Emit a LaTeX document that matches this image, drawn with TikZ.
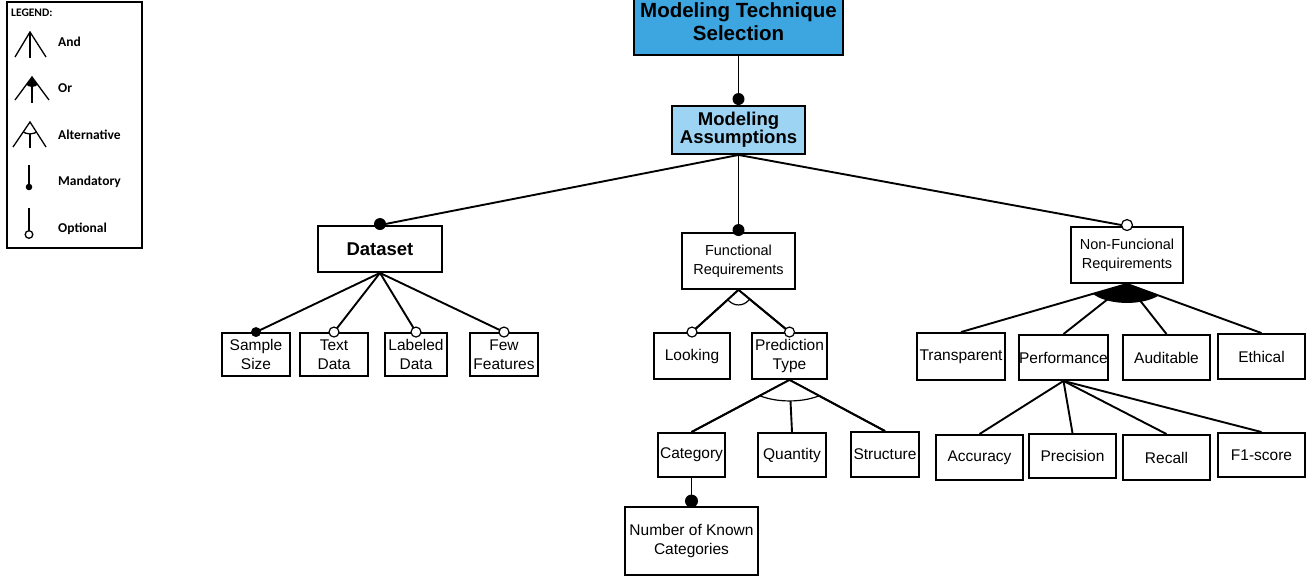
\documentclass[tikz,border=0pt]{standalone}
\usepackage{fontspec}
\setmainfont{Liberation Sans}
\newfontfamily\legfont{Carlito}
\usetikzlibrary{calc}
\definecolor{topblue}{HTML}{3DA5DF}
\definecolor{lightblue}{HTML}{9DD3F3}
\begin{document}
\begin{tikzpicture}[x=1pt,y=-1pt,
  box/.style={draw, line width=1.9pt, inner sep=0pt, align=center, font=\fontsize{15.5}{18.5}\selectfont},
  conn/.style={line width=1.9pt},
  grp/.style={line width=1.2pt},
  leg/.style={line width=1.3pt},
  legtext/.style={anchor=west, inner sep=0pt, font=\legfont\bfseries\fontsize{13.5}{15}\selectfont}]
\useasboundingbox (0,0) rectangle (1307,577);

% ---------- legend ----------
\node[draw, line width=1.2pt, minimum width=135, minimum height=246, inner sep=0pt] (legend) at (74.5,125) {};
\node[legtext, font=\legfont\bfseries\fontsize{11.5}{13}\selectfont] (legtitle) at (11,13) {LEGEND:};
\node[legtext] (legand) at (58,42) {And};
\node[legtext] (legor) at (58,88) {Or};
\node[legtext] (legalt) at (58,135) {Alternative};
\node[legtext] (legmand) at (58,182) {Mandatory};
\node[legtext] (legopt) at (58,229) {Optional};
% And
\draw[leg] (15,57) -- (30,32) -- (46,57);
\draw[leg] (30,32) -- (30,58);
% Or
\draw[leg] (15,100) -- (32,77) -- (49,100);
\draw[leg] (32,77) -- (32,103);
\begin{scope}
  \clip (32,77) -- (15,100) -- (49,100) -- cycle;
  \fill (32,77) ellipse [x radius=9, y radius=10];
\end{scope}
% Alternative
\begin{scope}
  \clip (30,122) -- (13,147) -- (46,147) -- cycle;
  \draw[leg, fill=white] (30,122) ellipse [x radius=12, y radius=12];
\end{scope}
\draw[leg] (13,147) -- (30,122) -- (46,147);
\draw[leg] (30,134) -- (30,148);
% Mandatory
\draw[leg] (29,165) -- (29,187);
\fill (29,187) circle (3.3);
% Optional
\draw[leg] (29,208) -- (29,231);
\draw[leg, fill=white] (29,234.5) circle (3.8);

% ---------- nodes ----------
\node[box, fill=topblue, minimum width=209, minimum height=67,
      font=\bfseries\fontsize{20.5}{23}\selectfont] (mts) at (738.5,21.5) {Modeling Technique\\Selection};
\node[box, fill=lightblue, minimum width=133, minimum height=48,
      font=\bfseries\fontsize{18.5}{16.5}\selectfont] (ma) at (738.5,130) {Modeling\\Assumptions};

\node[box, minimum width=124, minimum height=46, font=\bfseries\fontsize{18.5}{20}\selectfont] (ds) at (380,249) {Dataset};
\node[box, minimum width=113, minimum height=56, font=\fontsize{14.5}{19}\selectfont] (fr) at (738.5,261) {Functional\\Requirements};
\node[box, minimum width=112, minimum height=56, font=\fontsize{14.5}{19}\selectfont] (nfr) at (1127,255) {Non-Funcional\\Requirements};

\node[box, minimum width=68, minimum height=43] (ss) at (256,354.5) {Sample\\Size};
\node[box, minimum width=68, minimum height=43] (td) at (334,354.5) {Text\\Data};
\node[box, minimum width=62, minimum height=43] (ld) at (416,354.5) {Labeled\\Data};
\node[box, minimum width=68, minimum height=43] (ff) at (504,354.5) {Few\\Features};

\node[box, minimum width=76, minimum height=46] (lk) at (692,356) {Looking};
\node[box, minimum width=75, minimum height=46] (pt) at (789.5,356) {Prediction\\Type};

\node[box, minimum width=67, minimum height=44] (cat) at (691.5,455) {Category};
\node[box, minimum width=68, minimum height=44] (qty) at (792,455) {Quantity};
\node[box, minimum width=68, minimum height=45] (str) at (885,454.5) {Structure};
\node[box, minimum width=133, minimum height=68] (nkc) at (691.5,541) {Number of Known\\Categories};

\node[box, minimum width=88, minimum height=47] (tr) at (961,356.5) {Transparent};
\node[box, minimum width=87, minimum height=45] (perf) at (1063.5,357.5) {Performance};
\node[box, minimum width=87, minimum height=45] (aud) at (1166.5,357.5) {Auditable};
\node[box, minimum width=87, minimum height=45] (eth) at (1261.5,356.5) {Ethical};

\node[box, minimum width=87, minimum height=45] (acc) at (979.5,457.5) {Accuracy};
\node[box, minimum width=87, minimum height=44] (prec) at (1072.5,456) {Precision};
\node[box, minimum width=87, minimum height=45] (rec) at (1166.5,457.5) {Recall};
\node[box, minimum width=87, minimum height=44] (f1) at (1261.5,455) {F1-score};

% ---------- connectors ----------
\draw[conn] (mts.south) -- (ma.north);
\draw[conn] (ma.south) -- (ds.north);
\draw[conn] (ma.south) -- (fr.north);
\draw[conn] (ma.south) -- (nfr.north);

\foreach \c in {ss,td,ld,ff} \draw[conn] (ds.south) -- (\c.north);
\foreach \c in {lk,pt} \draw[conn] (fr.south) -- (\c.north);
\foreach \c in {cat,qty,str} \draw[conn] (pt.south) -- (\c.north);
\draw[conn] (cat.south) -- (nkc.north);
\foreach \c in {tr,perf,aud,eth} \draw[conn] (nfr.south) -- (\c.north);
\foreach \c in {acc,prec,rec,f1} \draw[conn] (perf.south) -- (\c.north);

% ---------- group symbols ----------
\begin{scope}
  \clip (fr.south) -- (lk.north) -- (pt.north) -- cycle;
  \draw[grp, fill=white] (fr.south) ellipse [x radius=14, y radius=15];
\end{scope}
\draw[conn] (lk.north) -- (fr.south) -- (pt.north);

\begin{scope}
  \clip (pt.south) -- (cat.north) -- (str.north) -- cycle;
  \draw[grp, fill=white] (pt.south) ellipse [x radius=45, y radius=21];
\end{scope}
\draw[conn] (cat.north) -- (pt.south) -- (str.north);

\begin{scope}
  \clip (nfr.south) -- (tr.north) -- (eth.north) -- cycle;
  \fill (nfr.south) ellipse [x radius=40, y radius=19];
\end{scope}

% ---------- mandatory / optional markers ----------
\fill ([yshift=6pt]ma.north) circle (6);
\fill ([yshift=1pt]ds.north) circle (6);
\fill ([yshift=2pt]fr.north) circle (6);
\draw[grp, fill=white] ([yshift=1pt]nfr.north) circle (5.5);
\fill (ss.north) circle (5);
\draw[grp, fill=white] (td.north) circle (5);
\draw[grp, fill=white] (ld.north) circle (5);
\draw[grp, fill=white] (ff.north) circle (5);
\draw[grp, fill=white] (lk.north) circle (5);
\draw[grp, fill=white] (pt.north) circle (5);
\fill ([yshift=5pt]nkc.north) circle (6.5);
\end{tikzpicture}
\end{document}
